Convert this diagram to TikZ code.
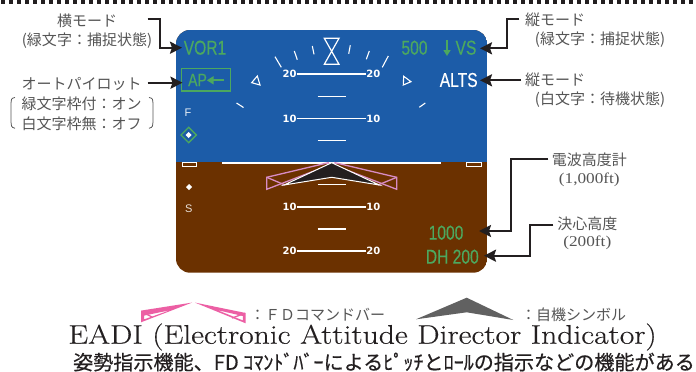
\documentclass[tikz,border=0pt]{standalone}
\usepackage{fontspec}
\usetikzlibrary{arrows.meta}
\setmainfont{Latin Modern Roman}
\newfontfamily\titlef[FakeStretch=1.17,FakeBold=0.35]{Latin Modern Roman}
\newfontfamily\jpf{Noto Sans CJK JP}
\newfontfamily\jpheavy[FakeBold=0.5]{Noto Sans CJK JP}
\newfontfamily\narrowf[FakeStretch=0.78,FakeBold=0.35]{Liberation Sans}
\newfontfamily\pitchf{DejaVu Sans Bold}
\newfontfamily\sansf{Liberation Sans}
\newfontfamily\wideserif[FakeStretch=1.15]{Liberation Serif}
\definecolor{skyblue}{HTML}{1C5CA8}
\definecolor{ground}{HTML}{6B3100}
\definecolor{modegreen}{HTML}{4CA85F}
\definecolor{fdpink}{HTML}{D88CC4}
\definecolor{legendpink}{HTML}{EC5FA4}
\definecolor{inkblack}{HTML}{231F20}
\definecolor{labelgray}{HTML}{555555}
\tikzset{
  every node/.style={inner sep=0pt,outer sep=0pt},
  lab/.style={font=\jpf\fontsize{15}{15}\selectfont,text=labelgray},
  latinlab/.style={font=\wideserif\fontsize{15}{15}\selectfont,text=labelgray},
  conn/.style={draw=inkblack,line width=2.3pt,-{Stealth[length=12pt,width=12pt,inset=2pt]}},
  greentext/.style={font=\narrowf\fontsize{20}{20}\selectfont,text=modegreen},
  whitetext/.style={font=\narrowf\fontsize{20}{20}\selectfont,text=white},
  pitchnum/.style={font=\pitchf\fontsize{10}{10}\selectfont,text=white},
  pitchline/.style={draw=white,line width=1.1pt},
  wtick/.style={draw=white,line width=1.1pt},
  fdline/.style={draw=fdpink,line width=1.3pt},
  legline/.style={draw=legendpink,line width=1.3pt},
}
\begin{document}
\begin{tikzpicture}[x=1pt,y=-1pt]
\useasboundingbox (0,0) rectangle (696,372);
\fill[white] (0,0) rectangle (696,372);
% top dotted rule
\draw[draw=inkblack,line width=4pt,dash pattern=on 4pt off 4pt] (1,2) -- (696,2);
% display
\begin{scope}
\path[clip,rounded corners=14pt] (176,30) rectangle (487.3,272.7);
\fill[ground] (176,30) rectangle (487.3,272.7);
\fill[skyblue] (176,30) rectangle (487.3,161.7);
\end{scope}
% roll scale
\draw[wtick,line width=1.2pt] (324.3,38.3) -- (339,38.3) -- (324.3,64.3) -- (339,64.3) -- cycle;
\foreach \a/\b/\c/\d in {275/56.7/281.3/67.3,294.3/51/297.3/59.7,312.3/46/314/54.3,350.3/45.3/348.7/53.7,369.3/51/366.3/59.3,388.3/56/382.3/67.3,236.5/103/243.5/107.5,425.3/103/419.3/107.3}
  \draw[wtick] (\a,\b) -- (\c,\d);
\draw[wtick] (251.7,82.7) -- (257.3,76) -- (260,85) -- cycle;
\draw[wtick] (403.7,76.3) -- (411,81.7) -- (403.3,85) -- cycle;
% pitch ladder
\foreach \y in {74,118.7,207,251} \draw[pitchline] (296.7,\y) -- (366,\y);
\foreach \y in {96.3,140.3,184.7,229} \draw[pitchline] (317.7,\y) -- (345.7,\y);
\node[pitchnum] (p20ul) at (289.5,74) {20};
\node[pitchnum] (p20ur) at (373.3,74) {20};
\node[pitchnum] (p10ul) at (289.5,118.7) {10};
\node[pitchnum] (p10ur) at (373.3,118.7) {10};
\node[pitchnum] (p10ll) at (289.5,207) {10};
\node[pitchnum] (p10lr) at (373.3,207) {10};
\node[pitchnum] (p20ll) at (289.5,251) {20};
\node[pitchnum] (p20lr) at (373.3,251) {20};
% horizon
\draw[draw=white,line width=1.1pt] (222.3,163) -- (440.7,163);
\draw[draw=white,line width=1pt] (182,162) rectangle (196.7,166.3);
\draw[draw=white,line width=1pt] (466.7,162) rectangle (481.3,166.3);
% FD bars
\draw[fdline] (328.3,162.7) -- (266.7,177.3) -- (266.7,189.3) -- (328.3,165.5) -- cycle;
\draw[fdline] (266.7,177.3) -- (285,185);
\draw[fdline] (335,162.7) -- (396.7,177.3) -- (396.7,189.3) -- (335,165.5) -- cycle;
\draw[fdline] (396.7,177.3) -- (378,185);
% own aircraft symbol
\draw[draw=white,fill=inkblack,line width=1pt] (331.7,162.7) -- (379.3,185) -- (331.7,177.3) -- (284,185) -- cycle;
% mode annunciations
\node[greentext] (vor) at (205,47.7) {VOR1};
\node[greentext] (sp500) at (414.5,47.7) {500};
\node[greentext] (vs) at (466,47.7) {VS};
\draw[draw=modegreen,line width=1.6pt,-{Triangle[length=6pt,width=7pt]}] (447,40) -- (447,56);
\node[whitetext] (alts) at (458.7,80) {ALTS};
\draw[draw=modegreen,line width=1.5pt] (181.7,68.3) rectangle (230.7,91);
\node[greentext,font=\narrowf\fontsize{18}{18}\selectfont] (ap) at (197.5,80) {AP};
\draw[draw=modegreen,line width=2pt,-{Triangle[length=7pt,width=8pt]}] (224,80.3) -- (206.7,80.3);
\node[font=\sansf\fontsize{11}{11}\selectfont,text=white!90!skyblue] (f) at (188,112.7) {F};
\draw[draw=modegreen,line width=1.3pt] (188.7,127.3) -- (196.4,135) -- (188.7,142.7) -- (181,135) -- cycle;
\fill[white] (188.7,132) -- (191.7,135) -- (188.7,138) -- (185.7,135) -- cycle;
\fill[white] (189,184) -- (192,187) -- (189,190) -- (186,187) -- cycle;
\node[font=\sansf\fontsize{11}{11}\selectfont,text=white!85!ground] (s) at (188.7,209) {S};
\node[greentext] (ra) at (446,232.7) {1000};
\node[greentext,font=\narrowf\fontsize{20}{20}\selectfont] (dh) at (452.3,256.7) {DH 200};
% labels
\node[lab] (l1a) at (87,21) {横モード};
\node[lab] (l1b) at (87,40.7) {(緑文字：捕捉状態)};
\node[lab] (l2a) at (81.7,84) {オートパイロット};
\node[lab] (l2b) at (81.7,104) {緑文字枠付：オン};
\node[lab] (l2c) at (81.7,123.3) {白文字枠無：オフ};
\draw[draw=labelgray,line width=.8pt] (15,97.5) .. controls (11,98) and (11,100) .. (11,103) -- (11,122) .. controls (11,125) and (11,127.5) .. (15,128.3);
\draw[draw=labelgray,line width=.8pt] (149,97.5) .. controls (153,98) and (153,100) .. (153,103) -- (153,122) .. controls (153,125) and (153,127.5) .. (149,128.3);
\node[lab] (r1a) at (555,20) {縦モード};
\node[lab] (r1b) at (600,40) {(緑文字：捕捉状態)};
\node[lab] (r2a) at (555,80) {縦モード};
\node[lab] (r2b) at (600,100) {(白文字：待機状態)};
\node[lab] (r3a) at (589.3,160) {電波高度計};
\node[latinlab] (r3b) at (589.3,180) {(1,000ft)};
\node[lab] (r4a) at (587.3,224.3) {決心高度};
\node[latinlab] (r4b) at (587.3,243.3) {(200ft)};
% connectors
\coordinate (c1s) at (147.7,19);
\coordinate (c1e) at (182,47.7);
\coordinate (c2s) at (147.7,82.7);
\coordinate (c2e) at (182.5,82.7);
\coordinate (c3s) at (519.3,19.3);
\coordinate (c3e) at (480,48.3);
\coordinate (c4s) at (521,80.3);
\coordinate (c4e) at (480,80.3);
\coordinate (c5s) at (548.3,159.3);
\coordinate (c5e) at (479,231);
\coordinate (c6s) at (553.3,225);
\coordinate (c6e) at (484,255.7);
\draw[conn] (c1s) -- (160,19) -- (160,47.7) -- (c1e);
\draw[conn] (c2s) -- (c2e);
\draw[conn] (c3s) -- (506.7,19.3) -- (506.7,48.3) -- (c3e);
\draw[conn] (c4s) -- (c4e);
\draw[conn] (c5s) -- (510.7,159.3) -- (510.7,231) -- (c5e);
\draw[conn] (c6s) -- (530,225) -- (530,255.7) -- (c6e);
% legend
\fill[legendpink,even odd rule] (192,302.6) -- (141,310.6) -- (141,322.3) -- cycle (170,310.2) -- (144,315.6) -- (144,319.4) -- cycle;
\draw[legline] (141.7,311.7) -- (152,317);
\fill[legendpink,even odd rule] (195,302.6) -- (245.7,313) -- (245.7,323.3) -- cycle (217,310) -- (242.8,316) -- (242.8,320.4) -- cycle;
\draw[legline] (245,313.3) -- (232,318);
\node[lab,anchor=west] (fdleg) at (250,314.3) {：ＦＤコマンドバー};
\fill[fill=black!62] (466.7,297.7) -- (513.3,320) -- (466.7,312.3) -- (416,319.3) -- cycle;
\node[lab,anchor=west] (acleg) at (521,314.3) {：自機シンボル};
% title
\node[font=\titlef\fontsize{27}{27}\selectfont,text=inkblack] (title) at (362.5,337) {EADI (Electronic Attitude Director Indicator)};
\node[font=\jpheavy\fontsize{20.1}{20.1}\selectfont,text=inkblack] (sub) at (384,362) {姿勢指示機能、FD ｺﾏﾝﾄﾞﾊﾞｰによるﾋﾟｯﾁとﾛｰﾙの指示などの機能がある};
\end{tikzpicture}
\end{document}
